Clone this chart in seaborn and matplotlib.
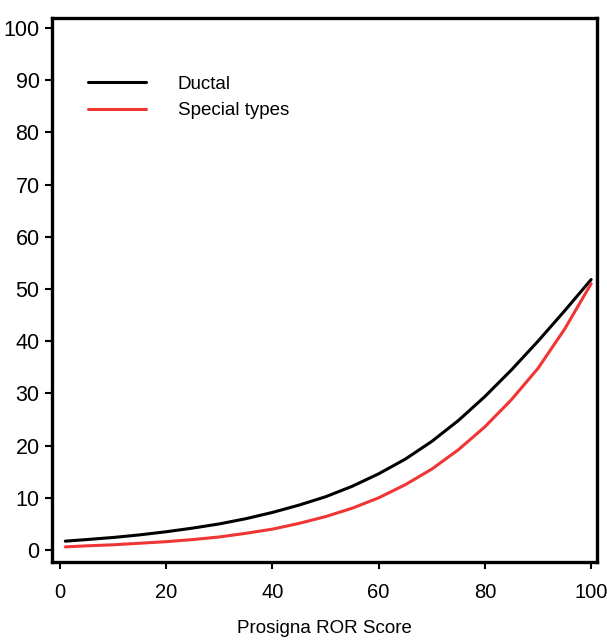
import pandas as pd
import matplotlib.pyplot as plt
import seaborn as sns

# Values
score = [1, 5, 10, 15, 20, 25, 30, 35, 40, 45, 50, 55, 60, 65, 70, 75, 80, 85, 90, 95, 100]
ductal = [1.7, 2.0, 2.4, 2.9, 3.5, 4.2, 5.0, 6.0, 7.2, 8.6, 10.2, 12.2, 14.6, 17.4, 20.8,
          24.8, 29.4, 34.5, 40.0, 45.8, 51.8]
special = [0.6, 0.8, 1.0, 1.3, 1.6, 2.0, 2.5, 3.2, 4.0, 5.1, 6.4, 8.0, 10.0, 12.5, 15.5,
           19.2, 23.6, 28.8, 34.8, 42.3, 51.0]
groups = ['Ductal', 'Special types']
colors = ['#000000', '#f03535']

df = pd.concat([
    pd.DataFrame({'score': score, 'risk': ductal, 'type': groups[0]}),
    pd.DataFrame({'score': score, 'risk': special, 'type': groups[1]}),
])

sns.set_style('ticks')
plt.rcParams['font.family'] = ['Liberation Sans', 'DejaVu Sans']
plt.rcParams['text.color'] = 'black'
plt.rcParams['axes.labelcolor'] = 'black'

fig = plt.figure(figsize=(6.07, 6.41), dpi=100)
ax = fig.add_axes([0.0857, 0.1232, 0.8978, 0.8488])

sns.lineplot(data=df, x='score', y='risk', hue='type', palette=colors,
             linewidth=2.2, ax=ax)

ax.set_xlim(-1.5, 101.1)
ax.set_ylim(-2.3, 101.9)
ax.set_xticks(range(0, 101, 20))
ax.set_yticks(range(0, 101, 10))
ax.tick_params(axis='both', labelsize=15.5, length=5, width=1.5, direction='out',
               colors='black', pad=4)
ax.tick_params(axis='x', labelsize=14.5, pad=10)
for s in ax.spines.values():
    s.set_linewidth(2.4)
    s.set_color('black')

ax.set_xlabel('Prosigna ROR Score', fontsize=13.5, labelpad=13)
ax.set_ylabel('')

leg = ax.legend(loc='upper left', bbox_to_anchor=(0.035, 0.925), frameon=False,
                fontsize=13.5, handlelength=3.1, handletextpad=1.7, labelspacing=0.5)
for h in leg.get_lines():
    h.set_linewidth(2.2)

fig.savefig('out.png', dpi=100)
plt.close()
